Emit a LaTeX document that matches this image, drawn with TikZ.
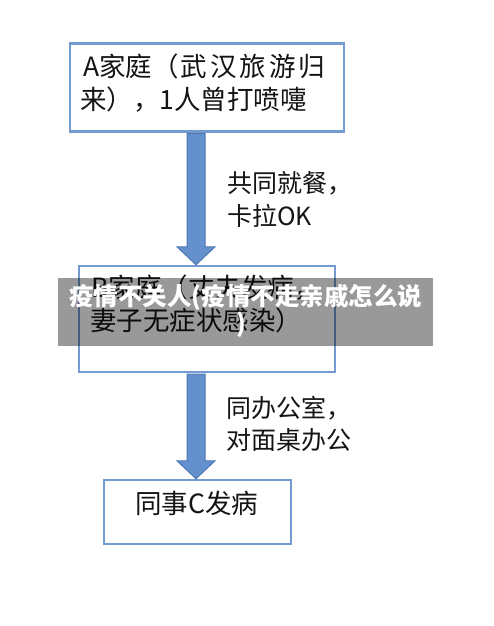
\documentclass[tikz,border=0pt]{standalone}
\usepackage{fontspec}
\setmainfont{Noto Sans CJK SC}
\usetikzlibrary{calc}
\definecolor{boxline}{RGB}{115,155,208}
\definecolor{arrfill}{RGB}{100,145,205}
\definecolor{arredge}{RGB}{80,120,180}
\definecolor{txt}{RGB}{20,20,20}
\tikzset{
  box/.style={draw=boxline, line width=2.4pt, fill=white, inner sep=0pt},
  boxtxt/.style={anchor=base west, inner sep=0pt, text=txt, font=\fontsize{26.5}{30}\selectfont},
  lbltxt/.style={anchor=base west, inner sep=0pt, text=txt, font=\fontsize{25}{28}\selectfont},
  bigarrow/.style={fill=arrfill, draw=arredge, line width=1pt, line join=miter},
  bannertxt/.style={anchor=base west, inner sep=0pt, text=white, font=\bfseries\fontsize{24.5}{28}\selectfont}
}
\newcommand{\wsp}{\hspace{3pt}}
\begin{document}
\begin{tikzpicture}[x=1pt,y=-1pt]
\useasboundingbox[fill=white] (0,0) rectangle (494,626);
% boxes (positions)
\node[box, minimum width=274pt, minimum height=88pt] (A) at (207,87.5) {};
\node[box, minimum width=256pt, minimum height=106pt] (B) at (207,319) {};
\node[box, minimum width=187pt, minimum height=64pt] (C) at (197.5,512) {};
% arrow axes
\coordinate (ax) at (196,0);
\coordinate (s1) at (A.south -| ax);
\coordinate (e1) at (B.north -| ax);
\coordinate (s2) at (B.south -| ax);
\coordinate (e2) at (C.north -| ax);
\draw[bigarrow] ($(s1)+(-9,1)$) -- ($(e1)+(-9,-18)$) -- ($(e1)+(-19,-18)$) -- (e1)
  -- ($(e1)+(19,-18)$) -- ($(e1)+(9,-18)$) -- ($(s1)+(9,1)$) -- cycle;
\draw[bigarrow] ($(s2)+(-9,1)$) -- ($(e2)+(-9,-18)$) -- ($(e2)+(-19,-18)$) -- (e2)
  -- ($(e2)+(19,-18)$) -- ($(e2)+(9,-18)$) -- ($(s2)+(9,1)$) -- cycle;
% box texts
\node[boxtxt] (a1) at (83,77) {A家庭（\hspace{2pt}武\wsp 汉\wsp 旅\wsp 游\wsp 归};
\node[boxtxt] (a2) at (80,109.5) {来），1人曾打喷嚏};
\node[boxtxt] (b1) at (91,297) {B家庭（丈夫发病，};
\node[boxtxt] (b2) at (90,330.5) {妻子无症状感染）};
\node[boxtxt] (c1) at (135,513) {同事C发病};
% labels
\node[lbltxt] (l1) at (227,192.5) {共同就餐，};
\node[lbltxt] (l2) at (227,225.5) {卡拉OK};
\node[lbltxt] (l3) at (226,417.5) {同办公室，};
\node[lbltxt] (l4) at (226,449.5) {对面桌办公};
% overlay banner
\fill[black, fill opacity=0.4] (58,278) rectangle (433,346);
\node[bannertxt] (w1) at (69,305) {疫情不关人(疫情不走亲戚怎么说};
\node[bannertxt] (w2) at (236,332) {)};
\end{tikzpicture}
\end{document}
